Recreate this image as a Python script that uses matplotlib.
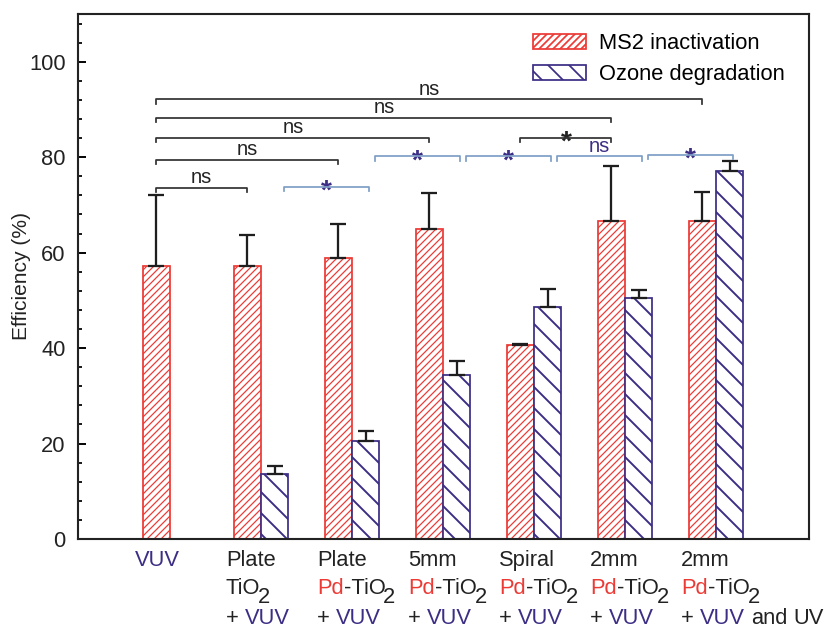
import numpy as np
import matplotlib
matplotlib.use('Agg')
import matplotlib.pyplot as plt
from matplotlib.patches import Patch

plt.rcParams['font.family'] = ['Liberation Sans', 'DejaVu Sans']

# values
groups = ['VUV', 'Plate TiO2', 'Plate Pd-TiO2', '5mm Pd-TiO2',
          'Spiral Pd-TiO2', '2mm Pd-TiO2', '2mm Pd-TiO2 UV']
ms2 = [57.2, 57.2, 58.9, 65.0, 40.7, 66.7, 66.6]
ms2_err = [14.8, 6.4, 7.0, 7.5, 0.2, 11.5, 6.2]
ozone = [np.nan, 13.7, 20.5, 34.4, 48.6, 50.5, 77.1]
ozone_err = [np.nan, 1.6, 2.1, 2.8, 3.7, 1.6, 2.1]

# significance brackets: (group a, group b, height, label)
ms2_pairs = [(0, 1, 73.6, 'ns'), (0, 2, 79.5, 'ns'), (0, 3, 84.1, 'ns'),
             (0, 5, 88.3, 'ns'), (0, 6, 92.1, 'ns'), (4, 5, 84.1, '*')]
ozone_pairs = [(1, 2, 73.8, '*'), (2, 3, 80.2, '*'), (3, 4, 80.2, '*'),
               (4, 5, 80.2, 'ns'), (5, 6, 80.5, '*')]

RED = '#ec3a35'
BLUE = '#3c2d85'
LBLUE = '#7f9ec6'
DARK = '#1e1e1e'

DPI = 126
fig = plt.figure(figsize=(836 / DPI, 630 / DPI), dpi=DPI)
ax = fig.add_axes([78 / 836, 1 - 539 / 630, 731 / 836, 525 / 630])

pos = np.arange(len(groups))
w = 0.3
RED_HATCH = '//////'
BLUE_HATCH = '\\\\'

with plt.rc_context({'hatch.linewidth': 0.7}):
    ax.bar(pos - w / 2, ms2, w, color='white', edgecolor=RED, hatch=RED_HATCH,
           linewidth=1.0, zorder=2)
    red_handle = Patch(facecolor='white', edgecolor=RED, hatch=RED_HATCH, linewidth=1.0)
ax.errorbar(pos - w / 2, ms2, yerr=[np.zeros(len(ms2)), ms2_err], fmt='none',
            ecolor=DARK, elinewidth=1.3, capsize=4.6, capthick=1.3, zorder=3)

oz = np.array(ozone)
ok = ~np.isnan(oz)
with plt.rc_context({'hatch.linewidth': 1.1}):
    ax.bar(pos[ok] + w / 2, oz[ok], w, color='white', edgecolor=BLUE, hatch=BLUE_HATCH,
           linewidth=1.0, zorder=2)
    blue_handle = Patch(facecolor='white', edgecolor=BLUE, hatch=BLUE_HATCH, linewidth=1.0)
ax.errorbar(pos[ok] + w / 2, oz[ok],
            yerr=[np.zeros(ok.sum()), np.array(ozone_err)[ok]], fmt='none',
            ecolor=DARK, elinewidth=1.3, capsize=4.6, capthick=1.3, zorder=3)

ax.set_xlim(-1.01, 7.02)
ax.set_ylim(0, 110)
ax.set_xticks([])
ax.set_yticks(np.arange(0, 101, 20))
ax.set_yticks(np.arange(0, 109, 4), minor=True)
ax.tick_params(axis='y', which='major', direction='in', length=4.4, width=1.1,
               labelsize=12.5, pad=7, labelcolor='#222222')
ax.tick_params(axis='y', which='minor', direction='in', length=2.3, width=1.0)
for s in ax.spines.values():
    s.set_linewidth(1.2)
    s.set_color('#222222')
ax.set_ylabel('Efficiency (%)', fontsize=12, labelpad=-1, color='#222222')


def bracket(x1, x2, y, label, lc, tc, tip=0.9):
    ax.plot([x1, x1, x2, x2], [y - tip, y, y, y - tip], color=lc, lw=1.0,
            solid_joinstyle='round', zorder=4)
    if label == '*':
        ax.text((x1 + x2) / 2, y - 2.5, '*', color=tc, fontsize=16,
                fontweight='bold', ha='center', va='baseline')
    else:
        ax.text((x1 + x2) / 2, y + 0.9, label, color=tc, fontsize=11.5,
                ha='center', va='baseline')


for a, b, y, lab in ms2_pairs:
    bracket(pos[a] - w / 2, pos[b] - w / 2, y, lab, '#333333', '#222222')
for a, b, y, lab in ozone_pairs:
    bracket(pos[a] + w / 2 + 0.1, pos[b] + w / 2 + 0.04, y, lab, LBLUE, BLUE)

# category labels, built from coloured pieces
K, R, B = '#222222', RED, BLUE
label_lines = [
    [[('VUV', B)]],
    [[('Plate', K)], [('TiO', K), ('_2', K)], [('+', K), (' ', K), ('VUV', B)]],
    [[('Plate', K)], [('Pd', R), ('-TiO', K), ('_2', K)], [('+', K), (' ', K), ('VUV', B)]],
    [[('5mm', K)], [('Pd', R), ('-TiO', K), ('_2', K)], [('+', K), (' ', K), ('VUV', B)]],
    [[('Spiral', K)], [('Pd', R), ('-TiO', K), ('_2', K)], [('+', K), (' ', K), ('VUV', B)]],
    [[('2mm', K)], [('Pd', R), ('-TiO', K), ('_2', K)], [('+', K), (' ', K), ('VUV', B)]],
    [[('2mm', K)], [('Pd', R), ('-TiO', K), ('_2', K)],
     [('+', K), (' ', K), ('VUV', B), (' ', K), ('and', K), (' ', K), ('UV', K)]],
]
baselines = [15.4, 31.4, 48.3]
lab_fs = 12.5
renderer = fig.canvas.get_renderer()
for g, lines in enumerate(label_lines):
    x0 = pos[g] - 0.385
    for i, line in enumerate(lines):
        dx = 0.0
        for txt, col in line:
            if txt == ' ':
                dx += 0.28 * lab_fs
                continue
            dy = -baselines[i]
            if txt.startswith('_'):
                txt = txt[1:]
                dy -= 5.2
                dx -= 1.2
            t = ax.annotate(txt, xy=(x0, 0), xycoords=('data', 'axes fraction'),
                            xytext=(dx, dy), textcoords='offset points',
                            ha='left', va='baseline', fontsize=lab_fs, color=col,
                            annotation_clip=False)
            dx += t.get_window_extent(renderer).width * 72 / DPI

ax.legend([red_handle, blue_handle], ['MS2 inactivation', 'Ozone degradation'],
          loc='upper left', bbox_to_anchor=(533 / 836, 1 - 33 / 630),
          bbox_transform=fig.transFigure, frameon=False, fontsize=12.5,
          borderpad=0, borderaxespad=0, handlelength=2.4, handleheight=0.7,
          handletextpad=0.6, labelspacing=0.45)

fig.savefig('out.png', dpi=DPI)
